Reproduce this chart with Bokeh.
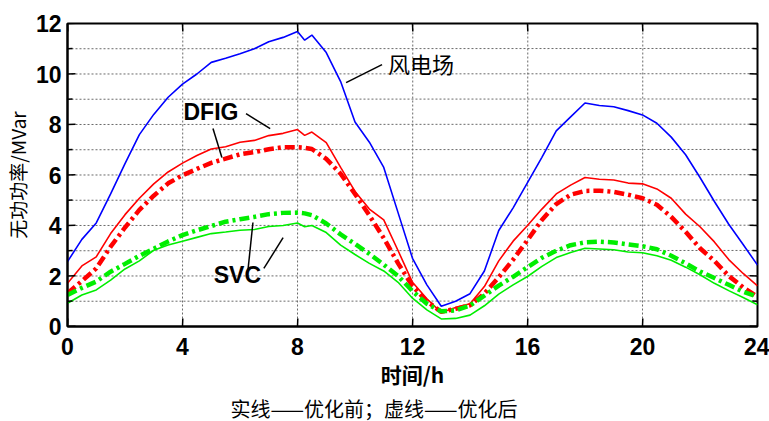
from bokeh.plotting import figure
from bokeh.models import FixedTicker, Label, Title, ColumnDataSource, Range1d
from bokeh.embed import file_html
from bokeh.resources import INLINE

# time in hours
hours = [0, 0.5, 1, 1.5, 2, 2.5, 3, 3.5, 4, 4.5, 5, 5.5, 6, 6.5, 7, 7.5, 8, 8.25, 8.5,
         9, 9.5, 10, 10.5, 11, 11.5, 12, 12.5, 13, 13.5, 14, 14.5, 15, 15.5, 16, 16.5,
         17, 17.5, 18, 18.5, 19, 19.5, 20, 20.5, 21, 21.5, 22, 22.5, 23, 23.5, 24]

wind_farm = [2.57, 3.45, 4.1, 5.25, 6.45, 7.6, 8.4, 9.08, 9.6, 10.0, 10.46, 10.62, 10.8, 11.0,
             11.28, 11.45, 11.68, 11.34, 11.54,
             10.85, 9.7, 8.1, 7.3, 6.3, 4.5, 2.7, 1.65, 0.8, 1.0, 1.3, 2.2, 3.8, 4.7, 5.7, 6.7,
             7.75, 8.3, 8.85, 8.75, 8.7, 8.55, 8.38, 8.05, 7.5, 6.8, 5.9, 4.95, 4.05, 3.25, 2.43]

dfig_before = [1.71, 2.4, 2.76, 3.68, 4.43, 5.08, 5.65, 6.12, 6.47, 6.77, 7.03, 7.12, 7.3, 7.37,
               7.56, 7.65, 7.8, 7.57, 7.7,
               7.28, 6.3, 5.35, 4.65, 4.22, 3.0, 1.75, 1.1, 0.55, 0.75, 0.9, 1.58, 2.6, 3.38, 4.0,
               4.65, 5.25, 5.6, 5.9, 5.83, 5.8, 5.68, 5.65, 5.45, 5.08, 4.45, 3.95, 3.35, 2.65,
               2.1, 1.61]

dfig_after = [1.32, 1.8, 2.3, 3.16, 3.92, 4.62, 5.18, 5.67, 5.99, 6.24, 6.48, 6.65, 6.82, 6.91,
              7.02, 7.1, 7.1, 7.08, 7.03,
              6.64, 6.05, 5.25, 4.4, 3.5, 2.5, 1.6, 1.0, 0.58, 0.7, 0.84, 1.3, 1.95, 2.65, 3.42,
              4.22, 4.85, 5.22, 5.37, 5.38, 5.33, 5.22, 5.08, 4.82, 4.34, 3.75, 3.1, 2.6, 2.0,
              1.55, 1.18]

svc_before = [0.92, 1.25, 1.45, 1.84, 2.28, 2.6, 3.02, 3.23, 3.38, 3.53, 3.68, 3.74, 3.81, 3.84,
              3.96, 4.0, 4.1, 3.95, 4.0,
              3.72, 3.22, 2.85, 2.5, 2.2, 1.75, 1.12, 0.66, 0.3, 0.32, 0.45, 0.82, 1.28, 1.65,
              1.98, 2.38, 2.73, 2.93, 3.1, 3.07, 3.04, 2.95, 2.92, 2.8, 2.62, 2.35, 2.05, 1.71,
              1.42, 1.15, 0.86]

svc_after = [1.25, 1.53, 1.78, 2.17, 2.48, 2.8, 3.08, 3.37, 3.62, 3.81, 3.98, 4.15, 4.25, 4.34,
             4.45, 4.5, 4.51, 4.48, 4.41,
             4.08, 3.65, 3.27, 2.88, 2.45, 2.0, 1.4, 0.9, 0.6, 0.64, 0.83, 1.22, 1.62, 1.97,
             2.35, 2.72, 3.0, 3.22, 3.33, 3.36, 3.33, 3.25, 3.18, 3.06, 2.8, 2.5, 2.18, 1.92,
             1.65, 1.38, 1.18]

x_ticks = [0, 4, 8, 12, 16, 20, 24]
y_ticks = [0, 2, 4, 6, 8, 10, 12]
y_minor = [1, 3, 5, 7, 9, 11]
X_MIN, X_MAX, Y_MIN, Y_MAX = 0, 24, 0, 12

# annotation leader lines (data coords)
lead_x0 = [9.69, 6.21, 5.06, 6.28, 6.83]
lead_y0 = [9.66, 8.43, 7.84, 2.26, 2.30]
lead_x1 = [10.94, 7.05, 5.37, 6.45, 7.50]
lead_y1 = [10.37, 7.84, 6.69, 4.12, 3.52]

TICK_FONT = "Liberation Sans"
FRAME_W, FRAME_H = 690, 303
PX_X = (X_MAX - X_MIN) / FRAME_W   # one screen pixel in x data units
PX_Y = (Y_MAX - Y_MIN) / FRAME_H   # one screen pixel in y data units
TILT = 0.3                          # sub-pixel skew so the lines are not exactly axis-aligned

p = figure(frame_width=FRAME_W, frame_height=FRAME_H, output_backend="svg",
           toolbar_location=None,
           x_range=Range1d(X_MIN, X_MAX), y_range=Range1d(Y_MIN, Y_MAX),
           min_border_left=67, min_border_right=12, min_border_top=23, min_border_bottom=95)
p.background_fill_color = "white"
p.border_fill_color = "white"
p.outline_line_color = "black"
p.outline_line_width = 2
p.grid.visible = False

xt = FixedTicker(ticks=x_ticks, minor_ticks=[])
yt = FixedTicker(ticks=y_ticks, minor_ticks=y_minor)

# dotted grid lines (drawn first, beneath the curves)
gx = [float(v) for v in x_ticks[1:-1]]
gy = [float(v) for v in sorted(y_ticks[1:-1] + y_minor)]
grid_v = ColumnDataSource(dict(x0=gx, y0=[float(Y_MIN)] * len(gx),
                               x1=[v + TILT * PX_X for v in gx], y1=[float(Y_MAX)] * len(gx)))
grid_h = ColumnDataSource(dict(x0=[float(X_MIN)] * len(gy), y0=gy,
                               x1=[float(X_MAX)] * len(gy), y1=[v + TILT * PX_Y for v in gy]))
p.segment("x0", "y0", "x1", "y1", source=grid_v,
          line_color="#6a6a6a", line_width=1, line_dash="2 2")
p.segment("x0", "y0", "x1", "y1", source=grid_h,
          line_color="#6a6a6a", line_width=1, line_dash="2 2")

src = ColumnDataSource(dict(h=hours, wf=wind_farm, db=dfig_before, da=dfig_after,
                            sb=svc_before, sa=svc_after))

p.line("h", "wf", source=src, line_color="#0000ff", line_width=1.6)
p.line("h", "db", source=src, line_color="#ff0000", line_width=1.6)
p.line("h", "da", source=src, line_color="#ff0000", line_width=4.5, line_dash="10 4 3 4")
p.line("h", "sb", source=src, line_color="#00ee00", line_width=1.6)
p.line("h", "sa", source=src, line_color="#00ee00", line_width=4.5, line_dash="10 4 3 4")

p.segment(x0=lead_x0, y0=lead_y0, x1=lead_x1, y1=lead_y1, line_color="black", line_width=1.5)

# inward tick marks on all four sides of the box (8 px major, 5 px minor)
tick_segs = dict(x0=[], y0=[], x1=[], y1=[])
for v in x_ticks:
    tick_segs["x0"] += [float(v), float(v)]
    tick_segs["y0"] += [float(Y_MIN), float(Y_MAX)]
    tick_segs["x1"] += [v + TILT * PX_X, v + TILT * PX_X]
    tick_segs["y1"] += [Y_MIN + 8 * PX_Y, Y_MAX - 8 * PX_Y]
for v in y_ticks:
    tick_segs["x0"] += [float(X_MIN), float(X_MAX)]
    tick_segs["y0"] += [float(v), float(v)]
    tick_segs["x1"] += [X_MIN + 8 * PX_X, X_MAX - 8 * PX_X]
    tick_segs["y1"] += [v + TILT * PX_Y, v + TILT * PX_Y]
for v in y_minor:
    tick_segs["x0"] += [float(X_MIN), float(X_MAX)]
    tick_segs["y0"] += [float(v), float(v)]
    tick_segs["x1"] += [X_MIN + 5 * PX_X, X_MAX - 5 * PX_X]
    tick_segs["y1"] += [v + TILT * PX_Y, v + TILT * PX_Y]
p.segment("x0", "y0", "x1", "y1", source=ColumnDataSource(tick_segs),
          line_color="black", line_width=1.5)

for ax in p.xaxis:
    ax.ticker = xt
    ax.axis_label = "时间/h"
    ax.axis_label_text_font = "Noto Sans CJK SC"
    ax.axis_label_text_font_style = "bold"
    ax.axis_label_text_font_size = "21px"
    ax.axis_label_standoff = 1
    ax.major_label_standoff = 11
for ax in p.yaxis:
    ax.ticker = yt
    ax.axis_label = "无功功率/MVar"
    ax.axis_label_text_font = "Noto Sans CJK SC"
    ax.axis_label_text_font_style = "normal"
    ax.axis_label_text_font_size = "19px"
    ax.axis_label_standoff = 2
    ax.major_label_standoff = 6

for ax in list(p.xaxis) + list(p.yaxis):
    ax.major_label_text_font = TICK_FONT
    ax.major_label_text_font_style = "bold"
    ax.major_label_text_font_size = "23px"
    ax.major_tick_in = 0
    ax.major_tick_out = 0
    ax.minor_tick_in = 0
    ax.minor_tick_out = 0
    ax.axis_line_width = 2
    ax.major_label_text_color = "black"
    ax.axis_label_text_color = "black"

p.add_layout(Label(x=11.15, y=10.45, text="风电场", text_font="Noto Sans CJK SC",
                   text_font_size="22px", text_baseline="middle", text_align="left",
                   text_color="black"))
p.add_layout(Label(x=4.99, y=8.51, text="DFIG", text_font="Liberation Sans",
                   text_font_style="bold", text_font_size="23px", text_baseline="middle",
                   text_align="center", text_color="black"))
p.add_layout(Label(x=5.91, y=2.02, text="SVC", text_font="Liberation Sans",
                   text_font_style="bold", text_font_size="23px", text_baseline="middle",
                   text_align="center", text_color="black"))

cap = Title(text="实线——优化前；虚线——优化后", align="left", offset=163,
            text_font="Noto Sans CJK SC", text_font_style="normal", text_font_size="20px",
            text_color="black", standoff=0)
p.add_layout(cap, "below")

open("out.html", "w").write(file_html(p, INLINE))
